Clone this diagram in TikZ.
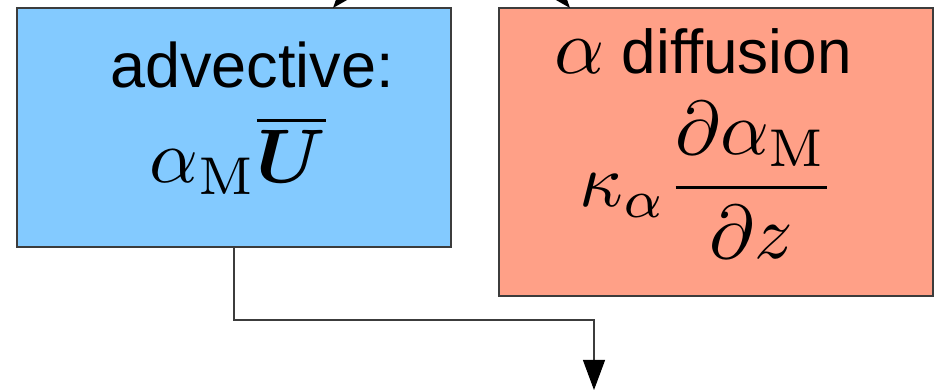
\documentclass[tikz,border=0pt]{standalone}
\usepackage{amsmath,bm}
\usepackage{graphicx}
\usepackage[no-math]{fontspec}
\setmainfont{Liberation Sans}
\usetikzlibrary{arrows.meta,calc}
\definecolor{advblue}{RGB}{131,202,255}
\definecolor{diffred}{RGB}{255,160,135}
\definecolor{edgegray}{RGB}{60,60,60}
\tikzset{
  box/.style={draw=edgegray, line width=1.5pt, inner sep=0pt, outer sep=0pt},
  conn/.style={draw=edgegray, line width=1.1pt},
  tip/.style={-{Triangle[length=30pt,width=22pt,color=black]}},
  labeltext/.style={inner sep=0pt, anchor=base},
}
\begin{document}
\begin{tikzpicture}[x=1pt,y=-1pt]
\useasboundingbox (0,0) rectangle (938,390);
\clip (0,0) rectangle (938,390);
% boxes
\node[box, fill=advblue, minimum width=434pt, minimum height=239pt] (adv) at (234,127.5) {};
\node[box, fill=diffred, minimum width=434pt, minimum height=288pt] (dif) at (716,152) {};
% texts
\node[labeltext] (advlbl) at (252,88) {\fontsize{63}{70}\selectfont advective:};
\node[labeltext] (advform) at (238,183) {\scalebox{7.6}{$\alpha_{\mathrm{M}}\overline{\bm{U}}$}};
\node[labeltext] (diflbl) at (703,74) {\scalebox{7.8}{$\alpha$}\fontsize{62}{70}\selectfont\ diffusion};
\node[inner sep=0pt] (difform) at (708,180) {\scalebox{7.6}{$\displaystyle \kappa_{\alpha}\frac{\partial \alpha_{\mathrm{M}}}{\partial z}$}};
% connector
\coordinate (bend) at (594,320);
\coordinate (out) at (594,390);
\draw[conn, tip] (adv.south) |- (bend) -- (out);
% incoming arrows (cut off by the frame)
\coordinate (inA) at (400,-70);
\coordinate (inB) at (500,-70);
\coordinate (hitA) at (333,8);
\coordinate (hitB) at (570,8);
\draw[conn, tip] (inA) to[out=200,in=50] (hitA);
\draw[conn, tip] (inB) to[out=-20,in=130] (hitB);
\end{tikzpicture}
\end{document}
